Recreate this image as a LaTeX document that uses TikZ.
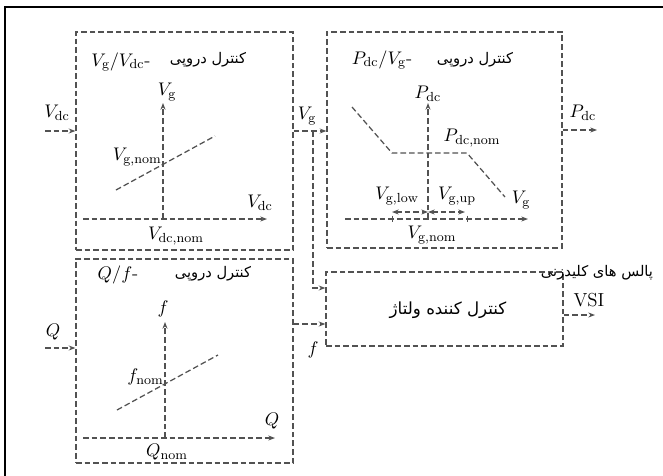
\documentclass[tikz,border=0pt]{standalone}
\usepackage{fontspec}
\newfontfamily\fa[Script=Arabic]{DejaVu Sans}
\TeXXeTstate=1
\usetikzlibrary{arrows.meta,fit}
\tikzset{
  dsh/.style={dash pattern=on 3.4pt off 1.8pt, line width=0.75pt, draw=black!68},
  blk/.style={dsh, draw, inner sep=0pt, rectangle},
  arr/.style={dsh, -{Stealth[length=4pt,width=3pt]}},
  darr/.style={dsh, {Stealth[length=4pt,width=3pt]}-{Stealth[length=4pt,width=3pt]}},
  lbl/.style={inner sep=0pt, font=\fontsize{11.3}{13}\selectfont},
  fat/.style={inner sep=0pt, font=\fontsize{8.8}{11}\selectfont\fa},
}
\begin{document}
\begin{tikzpicture}[x=0.6pt,y=-0.6pt]
\useasboundingbox (0,0) rectangle (663,475);
% outer frame (cut off on right and bottom)
\coordinate (fbl) at (5,476);
\coordinate (ftl) at (5,7);
\coordinate (ftr) at (664,7);
\draw[line width=1.5pt] (fbl) -- (ftl) -- (ftr);

% blocks
\node[blk, fit={(76,32) (293,250)}] (b1) {};
\node[blk, fit={(327,32) (562,248)}] (b2) {};
\node[blk, fit={(76,259) (293,463)}] (b3) {};
\node[blk, fit={(326,272) (563,346)}] (b4) {};

% ---- block 1
\node[lbl] (t1) at (121,62) {$V_\mathrm{g}/V_\mathrm{dc}$-};
\node[fat] (p1) at (208,60) {\beginR کنترل دروپی\endR};
\coordinate (o1) at (163,219);
\coordinate (x1s) at (83,219);
\coordinate (x1e) at (267,219);
\coordinate (y1e) at (163,103);
\draw[arr] (x1s) -- (x1e);
\draw[arr] (o1) -- (y1e);
\coordinate (l1a) at (116,190);
\coordinate (l1b) at (215,136);
\draw[dsh] (l1a) -- (l1b);
\node[lbl] (vg1) at (167,92) {$V_\mathrm{g}$};
\node[lbl] (vdc1) at (260,203) {$V_\mathrm{dc}$};
\node[lbl] (vdcn) at (176,236) {$V_\mathrm{dc,nom}$};
\node[lbl, anchor=east] (vgn1) at (162,157) {$V_\mathrm{g,nom}$};

% ---- block 2
\node[lbl] (t2) at (382,60) {$P_\mathrm{dc}/V_\mathrm{g}$-};
\node[fat] (p2) at (475,60) {\beginR کنترل دروپی\endR};
\coordinate (o2) at (428,219);
\coordinate (x2s) at (345,219);
\coordinate (x2e) at (528,219);
\coordinate (y2e) at (428,103);
\draw[arr] (x2s) -- (x2e);
\draw[arr] (o2) -- (y2e);
\coordinate (c1) at (352,107);
\coordinate (c2) at (392,153);
\coordinate (c3) at (467,153);
\coordinate (c4) at (505,197);
\draw[dsh] (c1) -- (c2) -- (c3) -- (c4);
\coordinate (tk1) at (392,219);
\coordinate (tk2) at (467,219);
\draw[line width=0.6pt, black!68] ([yshift=2pt]tk1) -- ([yshift=-2pt]tk1);
\draw[line width=0.6pt, black!68] ([yshift=2pt]tk2) -- ([yshift=-2pt]tk2);
\coordinate (d1) at (392,212);
\coordinate (d2) at (428,212);
\coordinate (d3) at (465,212);
\draw[darr] (d1) -- (d2);
\draw[darr] (d2) -- (d3);
\node[lbl] (pdc2) at (428,94) {$P_\mathrm{dc}$};
\node[lbl] (pdcn) at (472,138) {$P_\mathrm{dc,nom}$};
\node[lbl] (vgl) at (397,196) {$V_\mathrm{g,low}$};
\node[lbl] (vgu) at (457,196) {$V_\mathrm{g,up}$};
\node[lbl] (vg2) at (521,200) {$V_\mathrm{g}$};
\node[lbl] (vgn2) at (432,235) {$V_\mathrm{g,nom}$};

% ---- block 3
\node[lbl] (t3) at (118,275) {$Q/f$-};
\node[fat] (p3) at (213,274) {\beginR کنترل دروپی\endR};
\coordinate (o3) at (165,438);
\coordinate (x3s) at (83,438);
\coordinate (x3e) at (275,438);
\coordinate (y3e) at (165,322);
\draw[arr] (x3s) -- (x3e);
\draw[arr] (o3) -- (y3e);
\coordinate (l3a) at (117,410);
\coordinate (l3b) at (218,355);
\draw[dsh] (l3a) -- (l3b);
\node[lbl] (f3) at (163,309) {$f$};
\node[lbl, anchor=east] (fn) at (164,377) {$f_\mathrm{nom}$};
\node[lbl] (q3) at (272,421) {$Q$};
\node[lbl] (qn) at (167,452) {$Q_\mathrm{nom}$};

% ---- block 4
\node[fat, font=\fontsize{10}{12}\selectfont\fa] (p4) at (448,310) {\beginR کنترل کننده ولتاژ\endR};

% ---- inputs/outputs
\coordinate (vdcin) at (45,131);
\draw[arr] (vdcin) -- (b1.west |- vdcin);
\node[lbl] (vdcl) at (57,113) {$V_\mathrm{dc}$};
\coordinate (qin) at (45,348);
\draw[arr] (qin) -- (b3.west |- qin);
\node[lbl] (ql) at (53,332) {$Q$};

\coordinate (vgy) at (0,131);
\coordinate (vgbr) at (313,131);
\draw[arr] (b1.east |- vgy) -- (b2.west |- vgy);
\node[lbl] (vgl1) at (307,116) {$V_\mathrm{g}$};
\coordinate (vgin4) at (0,288);
\draw[arr] (vgbr) |- (b4.west |- vgin4);

\coordinate (fy) at (0,324);
\draw[arr] (b3.east |- fy) -- (b4.west |- fy);
\node[lbl] (fl) at (313,350) {$f$};

\coordinate (pdcout) at (597,130);
\draw[arr] (b2.east |- pdcout) -- (pdcout);
\node[lbl] (pdcl) at (583,113) {$P_\mathrm{dc}$};

\coordinate (vsiout) at (595,315);
\draw[arr] (b4.east |- vsiout) -- (vsiout);
\node[lbl] (vsil) at (589,300) {VSI};
\node[fat] (pul) at (597,273) {\beginR پالس های کلیدزنی\endR};
\end{tikzpicture}
\end{document}
